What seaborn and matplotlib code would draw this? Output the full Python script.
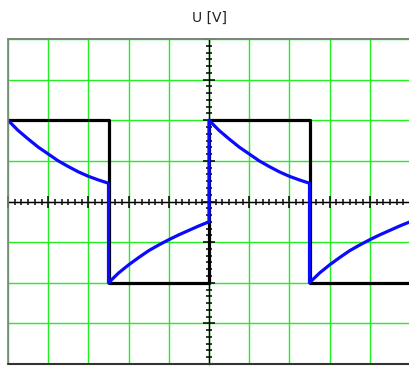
import numpy as np
import pandas as pd
import matplotlib
matplotlib.use("Agg")
import matplotlib.pyplot as plt
import seaborn as sns
from matplotlib.ticker import MultipleLocator, AutoMinorLocator
from matplotlib.patches import Rectangle

# Time within one half-period (divisions) and the sampled resistor voltage
half_t = [0.0, 0.25, 0.5, 0.75, 1.0, 1.25, 1.5, 1.75, 2.0, 2.25, 2.5]
u_fall = [2.00, 1.75, 1.54, 1.34, 1.17, 1.00, 0.86, 0.73, 0.62, 0.53, 0.45]
u_rise = [-2.00, -1.76, -1.56, -1.38, -1.21, -1.07, -0.94, -0.82, -0.71, -0.60, -0.50]

# Square-wave input: switching instants and levels
edges = [0.0, 2.5, 5.0, 7.5, 10.0]
levels = [2.0, -2.0, 2.0, -2.0]

# Build paths
sq_t, sq_u = [], []
for i, lv in enumerate(levels):
    sq_t += [edges[i], edges[i + 1]]
    sq_u += [lv, lv]
square = pd.DataFrame({"t": sq_t, "u": sq_u})

r_t, r_u = [], []
for i in range(len(levels)):
    seg = u_fall if levels[i] > 0 else u_rise
    r_t += [edges[i] + h for h in half_t]
    r_u += seg
response = pd.DataFrame({"t": r_t, "u": r_u})

sns.set_style("white")
plt.rcParams["font.family"] = ["DejaVu Sans"]

fig = plt.figure(figsize=(4.09, 3.67), dpi=100)
ax = fig.add_axes([8 / 409, 3 / 367, 402 / 409, 325 / 367])

sns.lineplot(data=square, x="t", y="u", sort=False, estimator=None,
             color="black", lw=2.3, ax=ax, zorder=3)
sns.lineplot(data=response, x="t", y="u", sort=False, estimator=None,
             color="#0a0aff", lw=2.3, ax=ax, zorder=4)

ax.set_xlim(0, 10)
ax.set_ylim(-4, 4)
ax.set_xlabel("")
ax.set_ylabel("")
ax.set_title("U [V]", fontsize=10, pad=12, color="#222222")

# Oscilloscope graticule
ax.xaxis.set_major_locator(MultipleLocator(1))
ax.yaxis.set_major_locator(MultipleLocator(1))
ax.xaxis.set_minor_locator(AutoMinorLocator(6))
ax.yaxis.set_minor_locator(AutoMinorLocator(6))
ax.set_axisbelow(True)
ax.grid(True, which="major", color="#22ee22", lw=1.0)

# Centre cross-hair axes
ax.spines["left"].set_position(("data", 5))
ax.spines["bottom"].set_position(("data", 0))
for s in ("left", "bottom"):
    ax.spines[s].set_color("black")
    ax.spines[s].set_linewidth(1.0)
for s in ("top", "right"):
    ax.spines[s].set_color("#808080")
    ax.spines[s].set_linewidth(1.2)
ax.tick_params(which="both", bottom=True, left=True, top=False, right=False,
               labelbottom=False, labelleft=False)
ax.tick_params(which="major", direction="inout", length=9, width=1.1,
               color="black")
ax.tick_params(which="minor", direction="inout", length=4.5, width=1.1,
               color="black")

# Outer frame
ax.add_patch(Rectangle((0, 0), 1, 1, transform=ax.transAxes, fill=False,
                       edgecolor="#808080", lw=1.2, zorder=5, clip_on=False))
ax.plot([0, 1], [0, 0], transform=ax.transAxes, color="#333333", lw=1.5,
        zorder=5, clip_on=False)

fig.savefig("out.png", dpi=100)
